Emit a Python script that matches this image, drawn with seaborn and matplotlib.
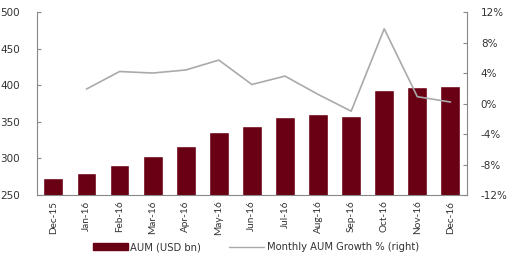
import numpy as np
import pandas as pd
import matplotlib
matplotlib.use("Agg")
import matplotlib.pyplot as plt
import seaborn as sns
from matplotlib.lines import Line2D
from matplotlib.patches import Patch

months = ["Dec-15", "Jan-16", "Feb-16", "Mar-16", "Apr-16", "May-16", "Jun-16",
          "Jul-16", "Aug-16", "Sep-16", "Oct-16", "Nov-16", "Dec-16"]
aum = [274, 280, 291, 303, 317, 336, 344, 357, 361, 358, 394, 398, 399]
growth = [np.nan, 1.9, 4.2, 4.0, 4.4, 5.7, 2.5, 3.6, 1.2, -1.0, 9.8, 0.9, 0.2]

sns.set_theme(style="white")
plt.rcParams["font.family"] = ["DejaVu Sans"]

df = pd.DataFrame({"month": months, "aum": aum, "growth": growth})
df["pos"] = np.arange(len(df))

fig = plt.figure(figsize=(5.12, 2.56), dpi=100)
ax = fig.add_axes([0.072, 0.238, 0.84, 0.715])
bar_color = "#6a0013"
sns.barplot(data=df, x="month", y="aum", color=bar_color, width=0.6, ax=ax,
            saturation=1)
ax.set_ylim(250, 500)
ax.set_yticks(np.arange(250, 501, 50))
ax.set_xlim(-0.5, 12.5)
ax.set_xlabel("")
ax.set_ylabel("")

ax2 = ax.twinx()
sns.lineplot(data=df.dropna(), x="pos", y="growth", color="#aaaaaa", linewidth=1.2, ax=ax2)
ax2.set_ylim(-12, 12)
ax2.set_yticks(np.arange(-12, 13, 4))
ax2.set_yticklabels([f"{v}%" for v in range(-12, 13, 4)])
ax2.set_ylabel("")
ax2.set_xlabel("")
ax.set_xlim(-0.5, 12.5)

for a in (ax, ax2):
    a.spines["top"].set_visible(False)
    for s in ("left", "right", "bottom"):
        a.spines[s].set_color("#888888")
        a.spines[s].set_linewidth(0.8)
ax.spines["right"].set_visible(False)
ax2.spines["left"].set_visible(False)
ax2.spines["bottom"].set_visible(False)

ax.tick_params(axis="y", direction="in", length=3, width=0.8, color="#888888",
               labelsize=7.5, pad=12, labelcolor="#333333", left=True)
ax2.tick_params(axis="y", direction="in", length=3, width=0.8, color="#888888",
                labelsize=7.5, pad=10, labelcolor="#333333", right=True)
ax.set_xticks(np.arange(len(months)))
ax.set_xticklabels(months, rotation=90, fontsize=7.2, color="#333333",
                   family=["Lato", "DejaVu Sans"])
ax.tick_params(axis="x", length=0, pad=4)

handles = [Patch(color=bar_color, label="AUM (USD bn)"),
           Line2D([0], [0], color="#aaaaaa", lw=1, label="Monthly AUM Growth % (right)")]
fig.legend(handles=handles, loc="center", bbox_to_anchor=(0.5, 0.035), ncol=2,
           frameon=False, fontsize=7.2, handlelength=3.5, handleheight=0.6,
           handletextpad=0.3, columnspacing=2.8, labelcolor="#333333")

fig.savefig("out.png", dpi=100)
